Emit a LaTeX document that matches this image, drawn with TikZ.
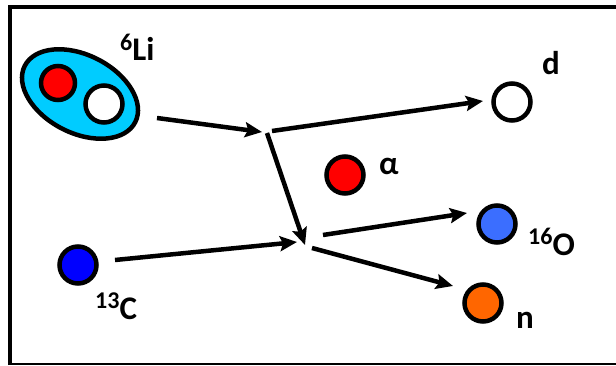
\documentclass[tikz,border=0pt]{standalone}
\usepackage{fontspec}
\setmainfont{Carlito}
\usetikzlibrary{shapes.geometric,arrows.meta}
\newcommand\isotope[2]{\raisebox{10pt}{\fontsize{24}{24}\selectfont #1}#2}
\definecolor{oxy}{RGB}{59,110,255}
\definecolor{neut}{RGB}{255,102,0}
\definecolor{lith}{RGB}{0,204,255}
\begin{document}
\begin{tikzpicture}[x=1pt,y=-1pt,
  particle/.style={circle,draw=black,line width=4.5pt,minimum size=37pt,inner sep=0pt},
  lbl/.style={font=\fontsize{33}{33}\selectfont\bfseries,inner sep=0pt,anchor=base west},
  arr/.style={line width=4.5pt,-{Stealth[length=17pt,width=15pt,inset=3pt]}}]
\useasboundingbox (0,0) rectangle (616,366);
\draw[line width=3.5pt] (10,365) -- (10,7) -- (620,7);
\draw[line width=2pt] (8,364) -- (620,364);
% Li-6 cluster
\node[ellipse,draw=black,fill=lith,line width=4.5pt,rotate=-27,minimum width=124pt,minimum height=78pt,inner sep=0pt] (li) at (80,94) {};
\node[particle,fill=red,minimum size=34pt] (lip) at (58,83) {};
\node[particle,fill=white] (lin) at (104,104) {};
\node[lbl] (lilbl) at (120,61) {\isotope{6}{Li}};
% other particles
\node[particle,fill=blue] (c) at (78,265) {};
\node[lbl] (clbl) at (95,319) {\isotope{13}{C}};
\node[particle,fill=white] (d) at (512,102) {};
\node[lbl] (dlbl) at (542,75) {d};
\node[particle,fill=red] (al) at (345,175) {};
\node[lbl] (allbl) at (379,175) {α};
\node[particle,fill=oxy] (o) at (497,224) {};
\node[lbl] (olbl) at (528,255) {\isotope{16}{O}};
\node[particle,fill=neut] (n) at (483,303) {};
\node[lbl] (nlbl) at (516,328) {n};
% connector end points
\coordinate (a1s) at (157,118); \coordinate (a1e) at (262,132);
\coordinate (a2s) at (272,131); \coordinate (a2e) at (483,101);
\coordinate (a3s) at (267,133); \coordinate (a3e) at (305,245);
\coordinate (a4s) at (115,260); \coordinate (a4e) at (297,242);
\coordinate (a5s) at (323,235); \coordinate (a5e) at (467,213);
\coordinate (a6s) at (312,248); \coordinate (a6e) at (453,286);
\draw[arr] (a1s) -- (a1e);
\draw[arr] (a2s) -- (a2e);
\draw[arr] (a3s) -- (a3e);
\draw[arr] (a4s) -- (a4e);
\draw[arr] (a5s) -- (a5e);
\draw[arr] (a6s) -- (a6e);
\end{tikzpicture}
\end{document}
